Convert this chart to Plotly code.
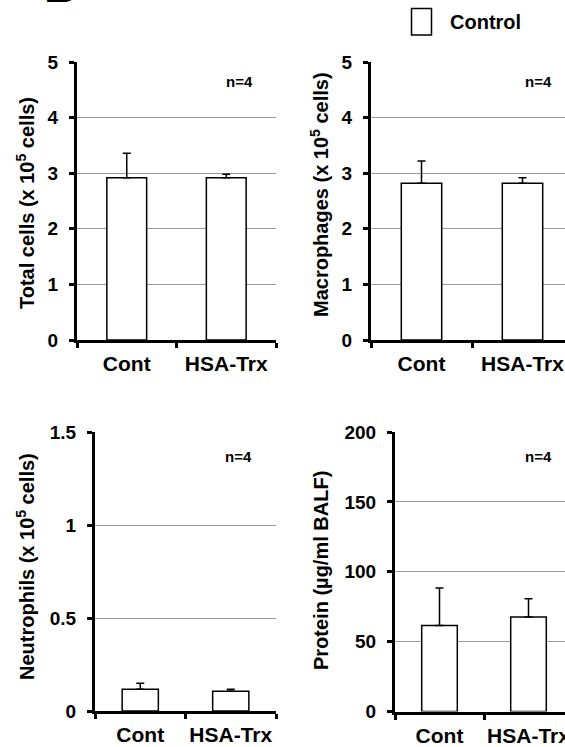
import plotly.graph_objects as go

W, H = 565, 747

# ---------------- data ----------------
categories = ["Cont", "HSA-Trx"]

total_cells = [2.92, 2.92]
total_cells_err = [0.44, 0.06]

macrophages = [2.82, 2.82]
macrophages_err = [0.40, 0.10]

neutrophils = [0.117, 0.106]
neutrophils_err = [0.032, 0.011]

protein = [61.6, 67.6]
protein_err = [26.7, 13.1]

cells_ticks = [0, 1, 2, 3, 4, 5]
neut_ticks = [0, 0.5, 1, 1.5]
protein_ticks = [0, 50, 100, 150, 200]

titles = [
    "Total cells (x 10<sup>5</sup> cells)",
    "Macrophages (x 10<sup>5</sup> cells)",
    "Neutrophils (x 10<sup>5</sup> cells)",
    "Protein (µg/ml BALF)",
]
n_label = "n=4"
legend_label = "Control"
panel_letter = "B"

# ---------------- layout geometry (pixels) ----------------
panels = [
    dict(vals=total_cells, err=total_cells_err, ticks=cells_ticks, ymax=5,
         l=77, r=276, t=62, b=340, cw=99.5, tx=25, ty=203, nx=239, ny=81),
    dict(vals=macrophages, err=macrophages_err, ticks=cells_ticks, ymax=5,
         l=371, r=565, t=62, b=340, cw=101, tx=319, ty=195, nx=538, ny=81),
    dict(vals=neutrophils, err=neutrophils_err, ticks=neut_ticks, ymax=1.5,
         l=95, r=276, t=432, b=711, cw=90.5, tx=25, ty=567, nx=238, ny=456),
    dict(vals=protein, err=protein_err, ticks=protein_ticks, ymax=200,
         l=395, r=565, t=432, b=711.5, cw=89, tx=321, ty=571, nx=538, ny=457),
]

FONT = "Liberation Sans, Arial, sans-serif"
fig = go.Figure()
annotations = []
shapes = []

for i, p in enumerate(panels):
    k = "" if i == 0 else str(i + 1)
    fig.add_trace(go.Bar(
        x=categories, y=p["vals"],
        xaxis="x" + k, yaxis="y" + k,
        width=0.4,
        marker=dict(color="white", line=dict(color="black", width=1.5)),
        error_y=dict(type="data", array=p["err"], arrayminus=[0, 0],
                     symmetric=False, color="black", thickness=1.5, width=4),
        showlegend=False,
    ))
    xr = [-0.5, -0.5 + (p["r"] - p["l"]) / p["cw"]]
    fig.update_layout(**{
        "xaxis" + k: dict(
            domain=[p["l"] / W, p["r"] / W], range=xr, type="category",
            anchor="y" + k, showgrid=False, showline=True, linecolor="black",
            linewidth=3, ticks="outside", ticklen=5, tickwidth=2.5,
            tickcolor="black", tickson="boundaries", automargin=False,
            tickangle=0,
            tickfont=dict(size=21, color="black"), ticklabelstandoff=3,
        ),
        "yaxis" + k: dict(
            domain=[1 - p["b"] / H, 1 - p["t"] / H], range=[0, p["ymax"]],
            anchor="x" + k, tickvals=p["ticks"], showgrid=True,
            gridcolor="#9a9a9a", gridwidth=1, showline=True, linecolor="black",
            linewidth=3, ticks="outside", ticklen=5, tickwidth=2.5,
            tickcolor="black", zeroline=False, automargin=False,
            tickfont=dict(size=19, color="black"), ticklabelstandoff=7,
        ),
    })
    annotations.append(dict(
        text=titles[i], xref="paper", yref="paper",
        x=p["tx"] / W, y=1 - p["ty"] / H, textangle=-90,
        showarrow=False, xanchor="center", yanchor="middle",
        font=dict(size=20, color="black"),
    ))
    annotations.append(dict(
        text=n_label, xref="paper", yref="paper",
        x=p["nx"] / W, y=1 - p["ny"] / H, showarrow=False,
        xanchor="center", yanchor="middle", font=dict(size=15, color="black"),
    ))

# legend (white box + label)
shapes.append(dict(type="rect", xref="paper", yref="paper",
                   x0=411.5 / W, x1=431.5 / W, y0=1 - 35 / H, y1=1 - 8.5 / H,
                   line=dict(color="black", width=1.5), fillcolor="white"))
annotations.append(dict(text=legend_label, xref="paper", yref="paper",
                        x=448 / W, y=1 - 22 / H, showarrow=False,
                        xanchor="left", yanchor="middle",
                        font=dict(size=20, color="black")))
# panel letter (cut off at the top, as in the source figure)
annotations.append(dict(text=panel_letter, xref="paper", yref="paper",
                        x=42 / W, y=1 - 14 / H, showarrow=False,
                        xanchor="left", yanchor="bottom",
                        font=dict(size=46, color="black")))

fig.update_layout(
    width=W, height=H,
    margin=dict(l=0, r=0, t=0, b=0, pad=0, autoexpand=False),
    paper_bgcolor="white", plot_bgcolor="white",
    font=dict(family=FONT, weight="bold", color="black"),
    annotations=annotations, shapes=shapes, showlegend=False,
)

fig.write_html("out.html", config={"displayModeBar": False},
               post_script="document.body.style.margin='0';"
                           "document.body.style.overflow='hidden';")
